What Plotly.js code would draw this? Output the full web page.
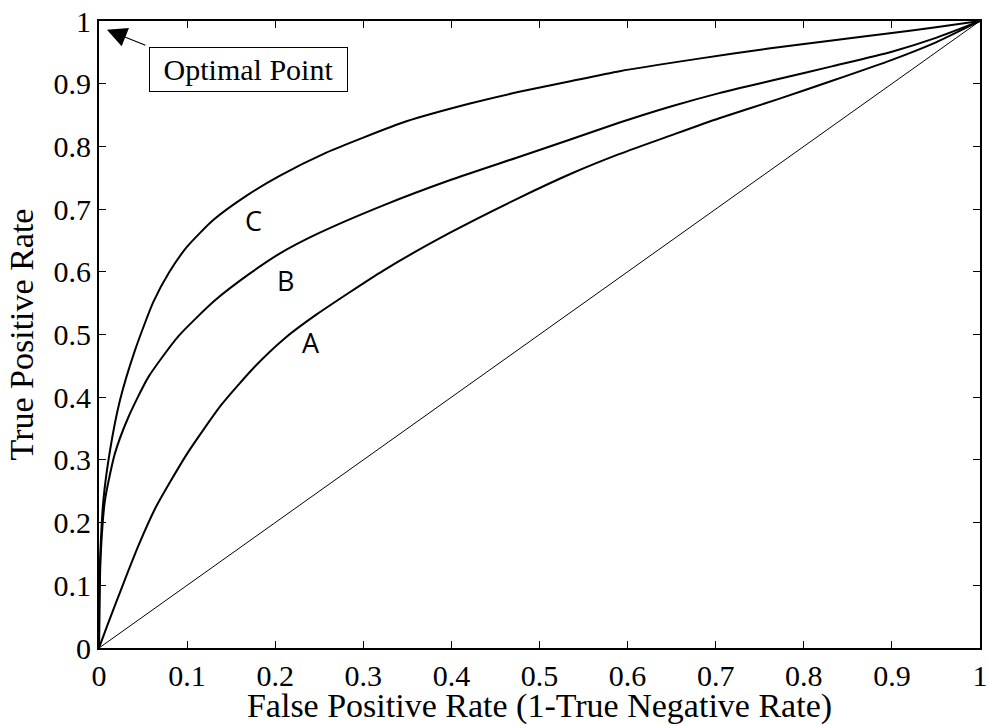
<!DOCTYPE html>
<html>
<head>
<meta charset="utf-8">
<script src="https://cdn.plot.ly/plotly-3.0.1.min.js"></script>
<style>
  html, body { margin: 0; padding: 0; background: #fff; }
  #chart { width: 988px; height: 725px; }
</style>
</head>
<body>
<div id="chart"></div>
<script>
// ROC curves for three classifiers (A, B, C) plus the chance diagonal.
const fprC = [0, 0.0005, 0.0015, 0.005, 0.0125, 0.0238, 0.0409, 0.0617, 0.08, 0.1, 0.13, 0.168, 0.205, 0.258, 0.3, 0.349, 0.42, 0.477, 0.535, 0.591, 0.681, 0.76, 0.832, 0.9, 0.95, 1];
const tprC = [0, 0.08, 0.15, 0.236, 0.315, 0.395, 0.475, 0.552, 0.600, 0.640, 0.683, 0.722, 0.753, 0.790, 0.814, 0.840, 0.868, 0.887, 0.904, 0.920, 0.940, 0.956, 0.969, 0.981, 0.990, 1];

const fprB = [0, 0.0005, 0.002, 0.0068, 0.018, 0.0333, 0.056, 0.090, 0.1317, 0.171, 0.205, 0.247, 0.3227, 0.398, 0.474, 0.535, 0.591, 0.65, 0.704, 0.77, 0.833, 0.9, 0.95, 1];
const tprB = [0, 0.07, 0.15, 0.236, 0.310, 0.368, 0.432, 0.497, 0.5545, 0.597, 0.629, 0.660, 0.706, 0.746, 0.782, 0.811, 0.838, 0.864, 0.885, 0.907, 0.928, 0.951, 0.973, 1];

const fprA = [0, 0.01, 0.028, 0.045, 0.0636, 0.08, 0.101, 0.139, 0.177, 0.21, 0.247, 0.3227, 0.398, 0.474, 0.535, 0.591, 0.65, 0.704, 0.77, 0.833, 0.9, 0.95, 1];
const tprA = [0, 0.038, 0.104, 0.164, 0.222, 0.263, 0.312, 0.388, 0.449, 0.493, 0.532, 0.602, 0.662, 0.716, 0.756, 0.788, 0.818, 0.845, 0.875, 0.905, 0.938, 0.966, 1];

const chanceX = [0, 1];
const chanceY = [0, 1];

// Curve labels and where they sit
const curveNames = ['C', 'B', 'A'];
const labelX = [0.175, 0.212, 0.241];
const labelY = [0.682, 0.586, 0.488];

const tickVals = [0, 0.1, 0.2, 0.3, 0.4, 0.5, 0.6, 0.7, 0.8, 0.9, 1];
const tickText = ['0', '0.1', '0.2', '0.3', '0.4', '0.5', '0.6', '0.7', '0.8', '0.9', '1'];

const serif = 'Liberation Serif';

function curve(x, y) {
  return { x: x, y: y, mode: 'lines', hoverinfo: 'skip',
           line: { color: '#000', width: 2, shape: 'spline', smoothing: 0.6 } };
}

const traces = [
  { x: chanceX, y: chanceY, mode: 'lines', line: { color: '#000', width: 1 }, hoverinfo: 'skip' },
  curve(fprA, tprA),
  curve(fprB, tprB),
  curve(fprC, tprC)
];

function axis(titleText) {
  return {
    range: [0, 1],
    tickvals: tickVals,
    ticktext: tickText,
    ticks: 'inside',
    ticklen: 7,
    tickwidth: 1,
    tickcolor: '#000',
    showline: true,
    linecolor: '#000',
    linewidth: 2,
    mirror: 'ticks',
    showgrid: false,
    zeroline: false,
    tickfont: { family: serif, size: 30, color: '#000' },
    title: { text: titleText, font: { family: serif, size: 34, color: '#000' } }
  };
}

const annotations = curveNames.map((n, i) => ({
  x: labelX[i], y: labelY[i], xref: 'x', yref: 'y',
  text: n, showarrow: false,
  font: { family: 'Open Sans', size: 27, color: '#000' }
}));

// Text box for the optimal point
annotations.push({
  x: 0.1695, y: 0.9234, xref: 'x', yref: 'y',
  text: 'Optimal Point', showarrow: false,
  width: 197, height: 43,
  bordercolor: '#000', borderwidth: 1, borderpad: 0, bgcolor: '#fff',
  font: { family: serif, size: 30, color: '#000' }
});
// Arrow from the box corner to the top-left corner of the plot
annotations.push({
  x: 0.009, y: 0.986, xref: 'x', yref: 'y',
  text: '', showarrow: true,
  ax: 40, ay: 16,
  arrowhead: 2, arrowsize: 3.6, arrowwidth: 1.1, arrowcolor: '#000'
});

const xa = axis('False Positive Rate (1-True Negative Rate)');
xa.title.standoff = 6;
const ya = axis('True Positive Rate');
ya.title.standoff = 10;

const layout = {
  width: 988, height: 725,
  margin: { l: 99, r: 8, t: 21, b: 77, pad: 0 },
  font: { family: serif, size: 30, color: '#000' },
  paper_bgcolor: '#fff', plot_bgcolor: '#fff',
  showlegend: false,
  xaxis: xa,
  yaxis: ya,
  annotations: annotations
};

Plotly.newPlot('chart', traces, layout, { displayModeBar: false, staticPlot: true });
</script>
</body>
</html>
